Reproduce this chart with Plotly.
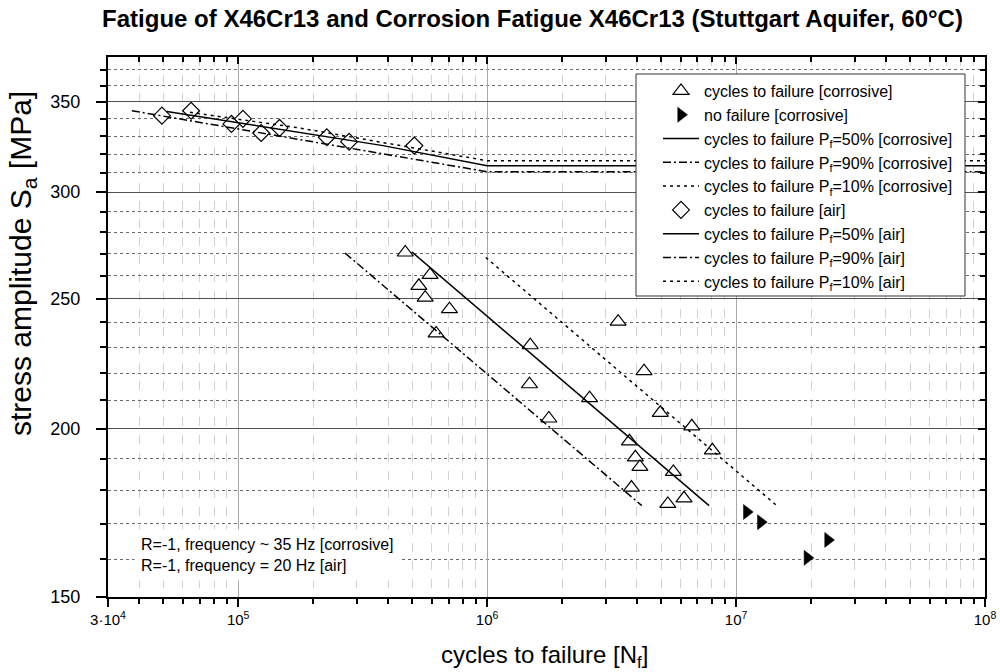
import plotly.graph_objects as go
import math

# ---------------- data ----------------
corr_N = [4.69e5, 5.90e5, 5.32e5, 5.64e5, 7.06e5, 6.24e5, 1.49e6, 1.48e6, 3.36e6, 2.58e6, 1.77e6,
          4.27e6, 4.96e6, 6.64e6, 8.03e6, 3.73e6, 3.94e6, 4.11e6, 5.60e6, 3.80e6, 6.18e6, 5.32e6]
corr_S = [270.5, 260.3, 255.5, 250.4, 245.5, 235.5, 230.8, 215.9, 240.3, 210.8, 203.6,
          220.8, 205.6, 200.9, 192.8, 195.8, 190.5, 187.4, 185.8, 180.9, 177.6, 175.9]

runout_N = [1.104e7, 1.257e7, 2.34e7, 1.934e7]
runout_S = [173.5, 170.5, 165.4, 160.4]

corr_p50_N = [4.98e5, 7.79e6]
corr_p50_S = [270.8, 175.4]
corr_p90_N = [2.69e5, 4.18e6]
corr_p90_S = [270.2, 175.4]
corr_p10_N = [9.88e5, 1.457e7]
corr_p10_S = [268.2, 175.4]

air_N = [4.94e4, 6.47e4, 9.4e4, 1.045e5, 1.237e5, 1.466e5, 2.27e5, 2.79e5, 5.1e5]
air_S = [341.9, 344.8, 337.1, 340.0, 331.9, 334.8, 329.5, 327.0, 324.8]

air_p50_N = [5.17e4, 3.82e5, 1e6, 1e8]
air_p50_S = [344.3, 324.8, 313.8, 313.8]
air_p90_N = [3.74e4, 1e6, 1e8]
air_p90_S = [344.8, 310.6, 310.6]
air_p10_N = [6.4e4, 1.775e5, 1e6, 1e8]
air_p10_S = [343.9, 334.7, 316.5, 316.5]

x_tickvals = [3e4, 1e5, 1e6, 1e7, 1e8]
x_ticktext = ["3·10<sup>4</sup>", "10<sup>5</sup>", "10<sup>6</sup>", "10<sup>7</sup>", "10<sup>8</sup>"]
x_minor = [k * 10 ** e for e in (4, 5, 6, 7) for k in range(2, 10) if k * 10 ** e > 3e4]
y_tickvals = [150, 200, 250, 300, 350]
y_minor = [160, 170, 180, 190, 210, 220, 230, 240, 260, 270, 280, 290, 310, 320, 330, 340, 360, 370]

x_range = [math.log10(3e4), 8]
y_range = [math.log10(150), math.log10(378)]

FONT = "Liberation Sans, Arial, sans-serif"
DASHDOT = "8px,3px,2px,3px"
DOT = "3px,4px"

# plot area in pixels (for paper-coordinate conversions of decorations)
L, R, T, B = 108, 985, 57, 597
PW, PH = R - L, B - T


def px(xp):
    return (xp - L) / PW


def py(yp):
    return (B - yp) / PH


fig = go.Figure()

fig.add_trace(go.Scatter(x=corr_N, y=corr_S, mode="markers", name="cycles to failure [corrosive]",
                         marker=dict(symbol="triangle-up", size=14, color="white",
                                     line=dict(color="black", width=1.2))))
fig.add_trace(go.Scatter(x=runout_N, y=runout_S, mode="markers", name="no failure [corrosive]",
                         marker=dict(symbol="triangle-right", size=13, color="black",
                                     line=dict(color="black", width=0.5))))
fig.add_trace(go.Scatter(x=corr_p50_N, y=corr_p50_S, mode="lines",
                         name="cycles to failure P<sub>f</sub>=50% [corrosive]",
                         line=dict(color="black", width=1.5)))
fig.add_trace(go.Scatter(x=corr_p90_N, y=corr_p90_S, mode="lines",
                         name="cycles to failure P<sub>f</sub>=90% [corrosive]",
                         line=dict(color="black", width=1.5, dash=DASHDOT)))
fig.add_trace(go.Scatter(x=corr_p10_N, y=corr_p10_S, mode="lines",
                         name="cycles to failure P<sub>f</sub>=10% [corrosive]",
                         line=dict(color="black", width=1.5, dash=DOT)))
fig.add_trace(go.Scatter(x=air_N, y=air_S, mode="markers", name="cycles to failure [air]",
                         marker=dict(symbol="diamond", size=13, color="white",
                                     line=dict(color="black", width=1.2))))
fig.add_trace(go.Scatter(x=air_p50_N, y=air_p50_S, mode="lines",
                         name="cycles to failure P<sub>f</sub>=50% [air]",
                         line=dict(color="black", width=1.5)))
fig.add_trace(go.Scatter(x=air_p90_N, y=air_p90_S, mode="lines",
                         name="cycles to failure P<sub>f</sub>=90% [air]",
                         line=dict(color="black", width=1.5, dash=DASHDOT)))
fig.add_trace(go.Scatter(x=air_p10_N, y=air_p10_S, mode="lines",
                         name="cycles to failure P<sub>f</sub>=10% [air]",
                         line=dict(color="black", width=1.5, dash=DOT)))

# empty trace so the mirror axes (top / right, inward ticks) are drawn
fig.add_trace(go.Scatter(x=[], y=[], xaxis="x2", yaxis="y2", showlegend=False, hoverinfo="skip"))

fig.update_layout(
    width=1000, height=672,
    margin=dict(l=L, r=1000 - R, t=T, b=672 - B),
    paper_bgcolor="white", plot_bgcolor="white",
    font=dict(family=FONT, color="black"),
    title=dict(text="Fatigue of X46Cr13 and Corrosion Fatigue X46Cr13 (Stuttgart Aquifer, 60°C)",
               font=dict(family=FONT, size=24, weight="bold", color="black"),
               x=0.5325, xref="container", xanchor="center",
               y=1 - 19 / 672, yref="container", yanchor="middle"),
    xaxis=dict(type="log", range=x_range, tickvals=x_tickvals, ticktext=x_ticktext,
               ticks="outside", ticklen=8, tickwidth=1.5, tickcolor="black",
               tickfont=dict(size=15, family=FONT), automargin=False,
               showline=True, linecolor="black", linewidth=2,
               showgrid=True, gridcolor="#a8a8a8", gridwidth=1,
               minor=dict(tickvals=x_minor, ticks="outside", ticklen=5, tickwidth=1.5,
                          tickcolor="black", showgrid=True, gridcolor="#d2d2d2",
                          griddash="dash", gridwidth=1),
               zeroline=False),
    yaxis=dict(type="log", range=y_range, tickvals=y_tickvals,
               ticks="outside", ticklen=10, tickwidth=1.5, tickcolor="black",
               tickfont=dict(size=18, family=FONT), ticklabelstandoff=12, automargin=False,
               showline=True, linecolor="black", linewidth=2,
               showgrid=True, gridcolor="#505050", gridwidth=1.2,
               minor=dict(tickvals=y_minor, ticks="outside", ticklen=6, tickwidth=1.5,
                          tickcolor="black", showgrid=True, gridcolor="#6a6a6a",
                          griddash="dot", gridwidth=1),
               zeroline=False),
    xaxis2=dict(type="log", range=x_range, overlaying="x", side="top", anchor="y2",
                tickvals=x_tickvals, showticklabels=False, ticks="inside", ticklen=7,
                tickwidth=1.5, tickcolor="black", showline=True, linecolor="black", linewidth=2,
                showgrid=False, zeroline=False, automargin=False,
                minor=dict(tickvals=x_minor, ticks="inside", ticklen=5, tickwidth=1.5,
                           tickcolor="black", showgrid=False)),
    yaxis2=dict(type="log", range=y_range, overlaying="y", side="right", anchor="x2",
                tickvals=y_tickvals, showticklabels=False, ticks="inside", ticklen=7,
                tickwidth=1.5, tickcolor="black", showline=True, linecolor="black", linewidth=2,
                showgrid=False, zeroline=False, automargin=False,
                minor=dict(tickvals=y_minor, ticks="inside", ticklen=5, tickwidth=1.5,
                           tickcolor="black", showgrid=False)),
    legend=dict(x=px(658), y=py(74), xanchor="left", yanchor="top",
                bgcolor="rgba(0,0,0,0)", borderwidth=0,
                font=dict(size=16, family=FONT), itemwidth=36, tracegroupgap=0),
    showlegend=True,
)

# legend frame (white box hiding what lies behind the legend)
fig.add_shape(type="rect", xref="paper", yref="paper",
              x0=px(636), x1=px(965), y0=py(296), y1=py(74),
              fillcolor="white", line=dict(color="#333333", width=1), layer="above")

fig.add_annotation(
    text="R=-1, frequency ~ 35 Hz [corrosive]<br>R=-1, frequency = 20 Hz [air]",
    xref="paper", yref="paper", x=px(134), y=py(555),
    xanchor="left", yanchor="middle", align="left", showarrow=False,
    bgcolor="white", borderpad=6, font=dict(size=16, family=FONT))

fig.add_annotation(
    text="stress amplitude S<sub>a</sub> [MPa]", textangle=-90,
    xref="paper", yref="paper", x=px(22), y=py(264),
    xanchor="center", yanchor="middle", showarrow=False, font=dict(size=30, family=FONT))

fig.add_annotation(
    text="cycles to failure [N<sub>f</sub>]",
    xref="paper", yref="paper", x=px(544), y=py(656),
    xanchor="center", yanchor="middle", showarrow=False, font=dict(size=24, family=FONT))

fig.write_html("out.html", config={"displayModeBar": False},
               post_script="document.body.style.margin='0';document.body.style.padding='0';")
